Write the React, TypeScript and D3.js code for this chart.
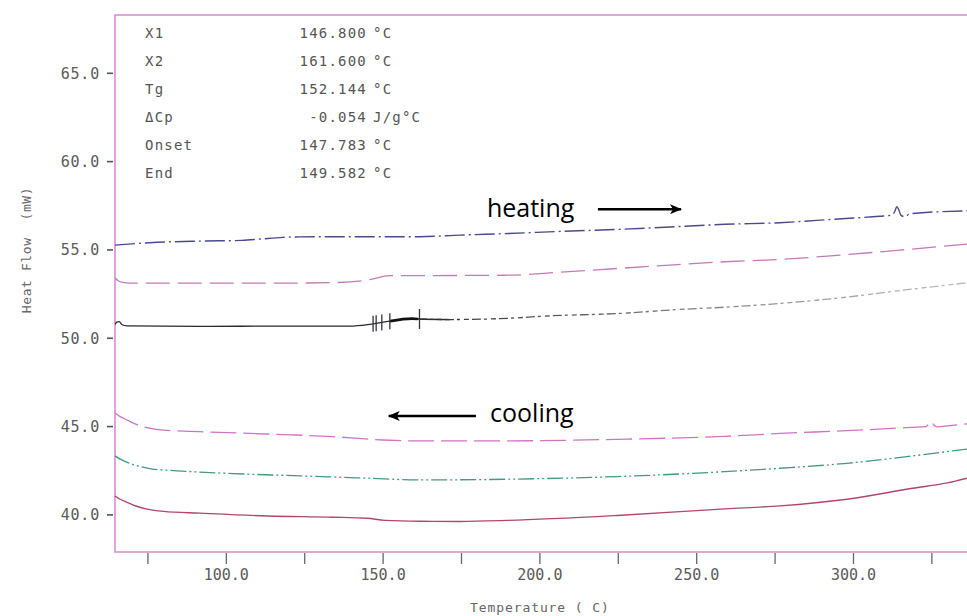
import * as d3 from "d3";

type Pt = [number, number];

// heating runs (temperature °C, heat flow mW)
const heatTop: Pt[] = [
  [64.5, 55.27], [75.6, 55.41], [91.6, 55.5], [105, 55.54], [111, 55.62], [118, 55.71], [123.5, 55.74],
  [139.4, 55.75], [161.7, 55.75], [174.5, 55.84], [189.8, 55.93], [206.4, 56.05], [224.6, 56.16],
  [241.5, 56.3], [259, 56.45], [276.5, 56.54], [293.8, 56.74], [308.4, 56.91], [312.2, 56.97],
  [313.2, 57.19], [313.8, 57.45], [314.5, 57.25], [315.1, 56.97], [316.4, 56.88], [318, 57.05],
  [336.2, 57.21],
];
const heatMid: Pt[] = [
  [64.5, 53.41], [65.5, 53.26], [67, 53.16], [69, 53.12], [91.6, 53.12], [117.1, 53.12], [134, 53.15],
  [144.8, 53.29], [152.2, 53.55], [161.7, 53.55], [189.8, 53.57], [206.4, 53.74], [224.6, 53.95],
  [241.5, 54.14], [259, 54.33], [276.5, 54.46], [293.8, 54.68], [314.8, 54.99], [336.2, 55.33],
];
const heatLow: Pt[] = [
  [64.5, 50.78], [65.1, 50.92], [65.8, 50.94], [66.7, 50.78], [68.3, 50.7], [91.6, 50.67],
  [117.1, 50.69], [139.4, 50.69], [145.8, 50.79], [152.2, 50.97], [159.2, 51.11], [161.1, 51.09],
  [171.3, 51.06], [189.8, 51.13], [202.2, 51.26], [224.6, 51.4], [244.6, 51.63], [259, 51.76],
  [276.5, 51.97], [293.8, 52.25], [314.8, 52.7], [336.2, 53.14],
];
// cooling runs
const coolTop: Pt[] = [
  [64.5, 45.77], [66, 45.58], [67.7, 45.43], [70.9, 45.15], [74.7, 44.94], [80, 44.8], [91.6, 44.71],
  [113, 44.58], [134, 44.43], [149.9, 44.24], [161.7, 44.19], [189.8, 44.19], [224.6, 44.28],
  [259, 44.45], [276.5, 44.61], [297.9, 44.77], [318.9, 44.96], [323.1, 45.0], [324, 45.15],
  [324.8, 45.29], [325.6, 45.09], [326.6, 44.98], [330.7, 45.06], [336.2, 45.15],
];
const coolMid: Pt[] = [
  [64.5, 43.34], [66, 43.17], [67.7, 43.03], [70, 42.86], [72.4, 42.74], [76, 42.61], [81.1, 42.53],
  [90, 42.44], [102.1, 42.34], [123.5, 42.21], [144.8, 42.08], [161.7, 41.98], [189.8, 42.02],
  [224.6, 42.17], [259, 42.45], [276.5, 42.64], [297.9, 42.92], [318.9, 43.34], [336.2, 43.73],
];
const coolLow: Pt[] = [
  [64.5, 41.07], [66, 40.9], [67.7, 40.76], [70.9, 40.52], [74.7, 40.33], [80, 40.2], [91.6, 40.1],
  [113, 39.94], [134, 39.87], [144.8, 39.81], [150.6, 39.69], [161.7, 39.64], [174.5, 39.63],
  [189.8, 39.69], [224.6, 39.97], [259, 40.34], [276.5, 40.51], [297.9, 40.89], [318.9, 41.51],
  [329.8, 41.81], [336.2, 42.08],
];

const statLabels = ["X1", "X2", "Tg", "\u0394Cp", "Onset", "End"];
const statValues = ["146.800", "161.600", "152.144", "-0.054", "147.783", "149.582"];
const statUnits = ["\u00b0C", "\u00b0C", "\u00b0C", "J/g\u00b0C", "\u00b0C", "\u00b0C"];
// analysis markers drawn on the black curve: X1, Onset, End, Tg, X2
const markerTemps = [146.8, 147.783, 149.582, 152.144, 161.6];

const yTicks = [40, 45, 50, 55, 60, 65];
const xMajor = [100, 150, 200, 250, 300];
const xMinor = [75, 125, 175, 225, 275, 325];

const width = 967;
const height = 616;
const left = 115, right = 967, top = 15, bottom = 552;

const mono = "'DejaVu Sans Mono', monospace";
const frameColor = "#d98cd2";

export default function App() {
  const x = d3.scaleLinear([64.5, 336.2], [left, right]);
  const y = d3.scaleLinear([37.9, 68.3], [bottom, top]);

  const line = d3
    .line<Pt>()
    .x((d) => x(d[0]))
    .y((d) => y(d[1]))
    .curve(d3.curveMonotoneX);

  // value of the black curve at a temperature (for marker placement)
  const lowAt = d3.scaleLinear(heatLow.map((d) => d[0]), heatLow.map((d) => d[1]));

  const lowSolid = heatLow.filter((d) => d[0] <= 171.3);
  const lowFaded = heatLow.filter((d) => d[0] >= 161.1);
  const lowThick = heatLow.filter((d) => d[0] >= 150 && d[0] <= 161.1);

  return (
    <svg
      width={width}
      height={height}
      style={{ position: "absolute", left: 0, top: 0, background: "#fff" }}
    >
      <defs>
        <clipPath id="plot">
          <rect x={left} y={top} width={right - left} height={bottom - top} />
        </clipPath>
        <linearGradient id="fade" gradientUnits="userSpaceOnUse" x1={x(165)} x2={x(336)} y1={0} y2={0}>
          <stop offset="0" stopColor="#333" stopOpacity={1} />
          <stop offset="1" stopColor="#888" stopOpacity={0.55} />
        </linearGradient>
        <marker id="head" viewBox="0 0 12 10" refX="11" refY="5" markerWidth="12" markerHeight="10"
          markerUnits="userSpaceOnUse" orient="auto-start-reverse">
          <path d="M0,0 L12,5 L0,10 L3,5 z" fill="#000" />
        </marker>
      </defs>

      {/* frame */}
      <path
        d={`M${right},${top}H${left}V${bottom}H${right}`}
        fill="none"
        stroke={frameColor}
        strokeWidth={1.6}
      />

      {/* y axis */}
      <g fontFamily={mono} fontSize={15} fill="#5a5a5a">
        {yTicks.map((t) => (
          <g key={t}>
            <line x1={left - 8} x2={left - 2} y1={y(t)} y2={y(t)} stroke="#555" strokeWidth={1.6} />
            <text x={left - 15} y={y(t)} dy="0.35em" textAnchor="end" letterSpacing={0.8}>
              {t.toFixed(1)}
            </text>
          </g>
        ))}
      </g>

      {/* x axis */}
      <g stroke="#666" strokeWidth={1.3}>
        {[...xMajor, ...xMinor].map((t) => (
          <line key={t} x1={x(t)} x2={x(t)} y1={bottom + 1} y2={bottom + 12} />
        ))}
      </g>
      <g fontFamily={mono} fontSize={15} fill="#5a5a5a" textAnchor="middle">
        {xMajor.map((t) => (
          <text key={t} x={x(t)} y={580}>
            {t.toFixed(1)}
          </text>
        ))}
      </g>

      <text
        x={x(200)}
        y={612}
        textAnchor="middle"
        fontFamily={mono}
        fontSize={13}
        letterSpacing={0.9}
        fill="#666"
      >
        Temperature ( C)
      </text>
      <text
        transform={`translate(31,${250}) rotate(-90)`}
        textAnchor="middle"
        fontFamily={mono}
        fontSize={13}
        letterSpacing={0.6}
        fill="#666"
        style={{ whiteSpace: "pre" }}
      >
        {"Heat Flow  (mW)"}
      </text>

      {/* curves */}
      <g clipPath="url(#plot)" fill="none" strokeLinejoin="round">
        <path d={line(heatTop) ?? ""} stroke="#4a4a8e" strokeWidth={1.4} strokeDasharray="20 4 2 4" />
        <path d={line(heatMid) ?? ""} stroke="#c57ab7" strokeWidth={1.3} strokeDasharray="24 8" />
        <path d={line(lowSolid) ?? ""} stroke="#2a2a2a" strokeWidth={1.3} />
        <path d={line(lowThick) ?? ""} stroke="#111" strokeWidth={2.6} />
        <path d={line(lowFaded) ?? ""} stroke="url(#fade)" strokeWidth={1.3} strokeDasharray="9 3 3 4 5 3" />
        <path d={line(coolTop) ?? ""} stroke="#d173c4" strokeWidth={1.3} strokeDasharray="26 7" />
        <path d={line(coolMid) ?? ""} stroke="#3f9c7c" strokeWidth={1.3} strokeDasharray="16 3 2 3 2 3" />
        <path d={line(coolLow) ?? ""} stroke="#b3466c" strokeWidth={1.4} />
      </g>

      {/* analysis markers */}
      <g stroke="#334" strokeWidth={1.3}>
        {markerTemps.map((t, i) => {
          const big = i === markerTemps.length - 1;
          const cy = y(lowAt(t));
          return (
            <line key={t} x1={x(t)} x2={x(t)} y1={cy - (big ? 10 : 8)} y2={cy + (big ? 10 : 8)} />
          );
        })}
      </g>

      {/* result table */}
      <g fontFamily={mono} fontSize={14} fill="#555" letterSpacing={1.2} style={{ whiteSpace: "pre" }}>
        {statLabels.map((lab, i) => {
          const ty = 38 + i * 28;
          return (
            <g key={lab}>
              <text x={145} y={ty}>{lab}</text>
              <text x={367} y={ty} textAnchor="end">{statValues[i]}</text>
              <text x={373} y={ty}>{statUnits[i]}</text>
            </g>
          );
        })}
      </g>

      {/* annotations */}
      <g fontFamily="'Open Sans', sans-serif" fontSize={25} fill="#000">
        <text x={x(183.1)} y={y(56.86)}>heating</text>
        <text x={x(184.1)} y={y(45.26)}>cooling</text>
      </g>
      <line
        x1={x(218.5)} x2={x(245)} y1={y(57.31)} y2={y(57.31)}
        stroke="#000" strokeWidth={2.5} markerEnd="url(#head)"
      />
      <line
        x1={x(179.6)} x2={x(151.8)} y1={y(45.6)} y2={y(45.6)}
        stroke="#000" strokeWidth={2.5} markerEnd="url(#head)"
      />
    </svg>
  );
}
